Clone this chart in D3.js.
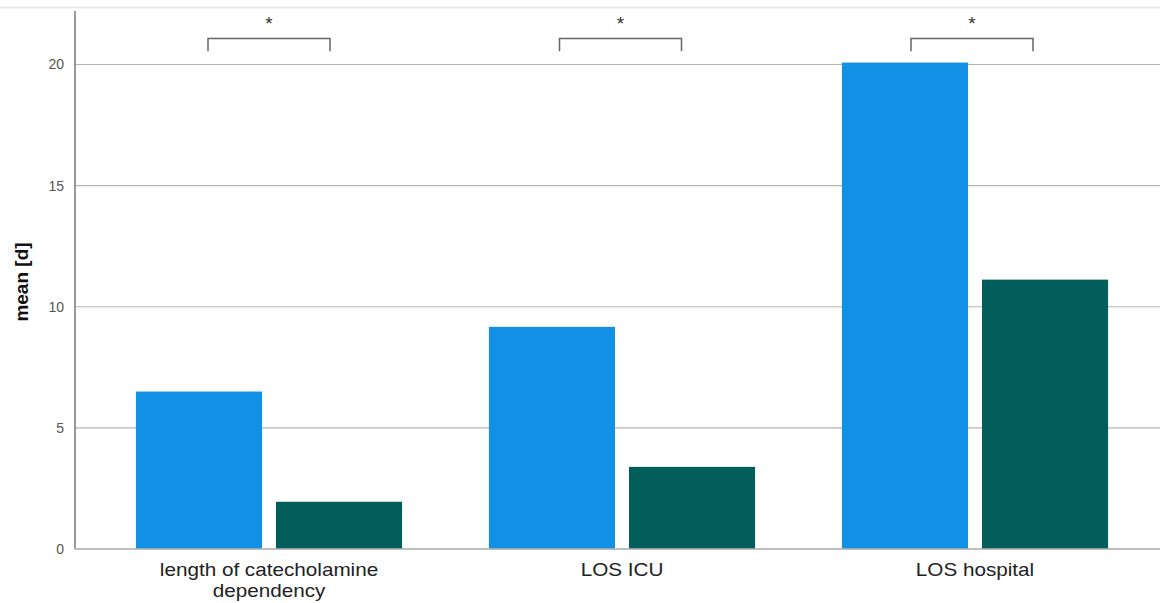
<!DOCTYPE html>
<html>
<head>
<meta charset="utf-8">
<script src="https://cdn.jsdelivr.net/npm/d3@7"></script>
<style>
body { margin: 0; background: #fff; }
svg { font-family: Arial, "Liberation Sans", sans-serif; }
</style>
</head>
<body>
<svg width="1160" height="603"></svg>
<script>
let categories = ["length of catecholamine\ndependency", "LOS ICU", "LOS hospital"]
let groups = ["A", "B"]
let valuesA = [6.5, 9.17, 20.08]
let valuesB = [1.95, 3.39, 11.12]
let yTicks = [0, 5, 10, 15, 20]
let sigLabels = ["*", "*", "*"]
let colors = ["#1290e6", "#015e5a"]

let svg = d3.select("svg")

let y = d3.scaleLinear()
    .domain([0, 22.25])
    .range([549, 10])

let x0 = d3.scaleBand()
    .domain(categories)
    .range([92.5, 1151.5])
    .paddingInner(0.246)
    .paddingOuter(0.123)

let x1 = d3.scaleBand()
    .domain(groups)
    .range([0, x0.bandwidth()])
    .paddingInner(0.1)

// faint frame line at top
svg.append("line")
    .attr("x1", 0).attr("x2", 1160)
    .attr("y1", 7.5).attr("y2", 7.5)
    .style("stroke", "#e4e4e4")
    .style("stroke-width", 1.5)

// gridlines
svg.selectAll(".grid")
    .data(yTicks)
    .join("line")
    .attr("x1", 75).attr("x2", 1160)
    .attr("y1", d => y(d)).attr("y2", d => y(d))
    .style("stroke", "#b4b4b4")
    .style("stroke-width", 1.2)

// y axis
let yAxis = svg.append("g")
    .attr("transform", "translate(75,0)")
    .call(d3.axisLeft(y).tickValues(yTicks).tickSize(0).tickPadding(11))
yAxis.select(".domain").remove()
yAxis.selectAll("text")
    .style("font-size", "14px")
    .style("fill", "#555")
    .style("font-family", "Arial, 'Liberation Sans', sans-serif")

svg.append("line")
    .attr("x1", 75).attr("x2", 75)
    .attr("y1", 11).attr("y2", 549)
    .style("stroke", "#777")
    .style("stroke-width", 1.5)

svg.append("text")
    .attr("transform", "translate(28,282) rotate(-90)")
    .attr("text-anchor", "middle")
    .style("font-size", "19px")
    .style("font-weight", "bold")
    .style("fill", "#111")
    .text("mean [d]")

let rows = categories.map((c, i) => ({ cat: c, vals: [valuesA[i], valuesB[i]] }))

let g = svg.selectAll(".grp")
    .data(rows)
    .join("g")
    .attr("transform", d => "translate(" + x0(d.cat) + ",0)")

g.selectAll("rect")
    .data(d => d.vals.map((v, j) => ({ key: groups[j], v: v })))
    .join("rect")
    .attr("x", d => x1(d.key))
    .attr("width", x1.bandwidth())
    .attr("y", d => y(d.v))
    .attr("height", d => y(0) - y(d.v))
    .style("fill", (d, j) => colors[j])

// baseline
svg.append("line")
    .attr("x1", 75).attr("x2", 1160)
    .attr("y1", y(0)).attr("y2", y(0))
    .style("stroke", "#b4b4b4")
    .style("stroke-width", 1.5)

// category labels (slightly wide, like the source)
svg.selectAll(".cat")
    .data(categories)
    .join("text")
    .attr("transform", d => "translate(" + (x0(d) + x0.bandwidth() / 2) + ",576) scale(1.15,1)")
    .attr("text-anchor", "middle")
    .style("font-size", "18px")
    .style("fill", "#222")
    .each(function (d) {
        let lines = d.split("\n")
        d3.select(this).selectAll("tspan")
            .data(lines)
            .join("tspan")
            .attr("x", 0)
            .attr("dy", (l, i) => i == 0 ? 0 : 21)
            .text(l => l)
    })

// significance brackets
let br = svg.selectAll(".sig")
    .data(categories)
    .join("g")
    .attr("transform", (d, i) => "translate(" + (x0(d) + x0.bandwidth() / 2 - 1.5 * i) + ",0)")

br.append("path")
    .attr("d", "M-61," + y(20.55) + "V" + y(21.07) + "H61V" + y(20.55))
    .style("fill", "none")
    .style("stroke", "#666")
    .style("stroke-width", 1.5)

br.append("text")
    .attr("y", 30)
    .attr("text-anchor", "middle")
    .style("font-size", "19px")
    .style("fill", "#333")
    .text((d, i) => sigLabels[i])
</script>
</body>
</html>
